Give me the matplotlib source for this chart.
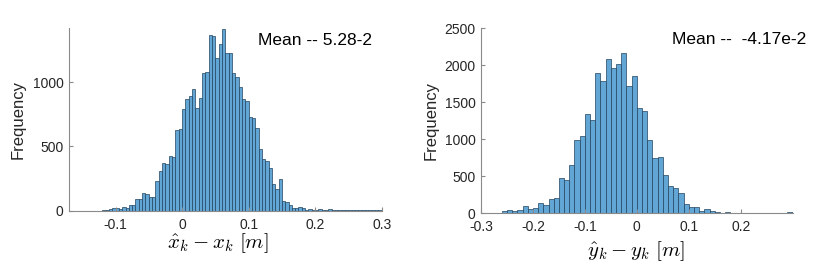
import numpy as np
import matplotlib
matplotlib.use('Agg')
import matplotlib.pyplot as plt

plt.rcParams['font.family'] = ['Liberation Sans', 'DejaVu Sans']
plt.rcParams['mathtext.fontset'] = 'cm'

# x error histogram (bin start, bin width, counts)
x_bin_start = -0.12
x_bin_w = 0.005
x_counts = [5, 3, 10, 19, 19, 10, 31, 23, 42, 44,
            93, 88, 135, 130, 104, 104, 228, 310, 367, 362,
            424, 414, 628, 636, 793, 871, 889, 948, 801, 879,
            1072, 1077, 1367, 1357, 1189, 1297, 1413, 1227, 1227, 1072,
            1039, 961, 866, 853, 729, 724, 646, 478, 398, 388,
            335, 207, 165, 243, 75, 65, 41, 21, 21, 26,
            23, 5, 13, 3, 5, 13, 5, 3, 10, 3,
            3, 2, 3, 5, 2, 3, 5, 2, 2, 2,
            2, 2, 2, 2]

# y error histogram
y_bin_start = -0.26
y_bin_w = 0.01
y_counts = [32, 45, 27, 45, 99, 59, 72, 144, 113, 189,
            203, 473, 450, 653, 991, 1045, 1338, 1261, 1892, 1788,
            2081, 1959, 2018, 2162, 1720, 1856, 1419, 1385, 991, 743,
            757, 514, 369, 338, 275, 122, 90, 88, 32, 54,
            32, 14, 4, 12, 3, 3, 3, 10, 3, 2,
            2, 2, 2, 2, 2, 14]

x_ticks = [-0.1, 0, 0.1, 0.2, 0.3]
y_ticks_left = [0, 500, 1000]
x_ticks_right = [-0.3, -0.2, -0.1, 0, 0.1, 0.2]
y_ticks_right = [0, 500, 1000, 1500, 2000, 2500]

face = '#62a6d6'
edge = '#23435f'
axis_col = '#8a8a8a'
text_col = '#262626'

fig = plt.figure(figsize=(8.3, 2.72), dpi=100)
ax1 = fig.add_axes([0.0831, 0.2254, 0.3767, 0.6717])
ax2 = fig.add_axes([0.5795, 0.2158, 0.3755, 0.680])


def style(ax):
    for s in ['top', 'right']:
        ax.spines[s].set_visible(False)
    for s in ['left', 'bottom']:
        ax.spines[s].set_color(axis_col)
        ax.spines[s].set_linewidth(0.8)
    ax.tick_params(direction='in', length=3, width=0.8, color=axis_col,
                   labelcolor=text_col, labelsize=10)
    ax.tick_params(axis='x', pad=5)
    ax.tick_params(axis='y', pad=4)


x_left = x_bin_start + x_bin_w * np.arange(len(x_counts))
ax1.bar(x_left, x_counts, width=x_bin_w, align='edge', color=face,
        edgecolor=edge, linewidth=0.5)
ax1.set_xlim(-0.17, 0.3)
ax1.set_ylim(0, 1420)
ax1.set_xticks(x_ticks)
ax1.set_xticklabels(['-0.1', '0', '0.1', '0.2', '0.3'])
ax1.set_yticks(y_ticks_left)
style(ax1)
ax1.set_ylabel('Frequency', fontsize=12, color=text_col)
ax1.yaxis.set_label_coords(-0.14, 0.5)
ax1.set_xlabel(r'$\hat{x}_k - x_k\ [m]$', fontsize=15)
ax1.xaxis.set_label_coords(0.477, -0.11)
ax1.text(0.604, 0.93, 'Mean -- 5.28-2', transform=ax1.transAxes,
         fontsize=12.5, va='center', ha='left', color='black')

y_left = y_bin_start + y_bin_w * np.arange(len(y_counts))
ax2.bar(y_left, y_counts, width=y_bin_w, align='edge', color=face,
        edgecolor=edge, linewidth=0.5)
ax2.set_xlim(-0.3, 0.3)
ax2.set_ylim(0, 2500)
ax2.set_xticks(x_ticks_right)
ax2.set_xticklabels(['-0.3', '-0.2', '-0.1', '0', '0.1', '0.2'])
ax2.set_yticks(y_ticks_right)
style(ax2)
ax2.set_ylabel('Frequency', fontsize=12, color=text_col)
ax2.yaxis.set_label_coords(-0.135, 0.5)
ax2.set_xlabel(r'$\hat{y}_k - y_k\ [m]$', fontsize=15)
ax2.xaxis.set_label_coords(0.497, -0.139)
ax2.text(0.612, 0.937, 'Mean --  -4.17e-2', transform=ax2.transAxes,
         fontsize=12.5, va='center', ha='left', color='black')

fig.savefig('out.png', dpi=100)
